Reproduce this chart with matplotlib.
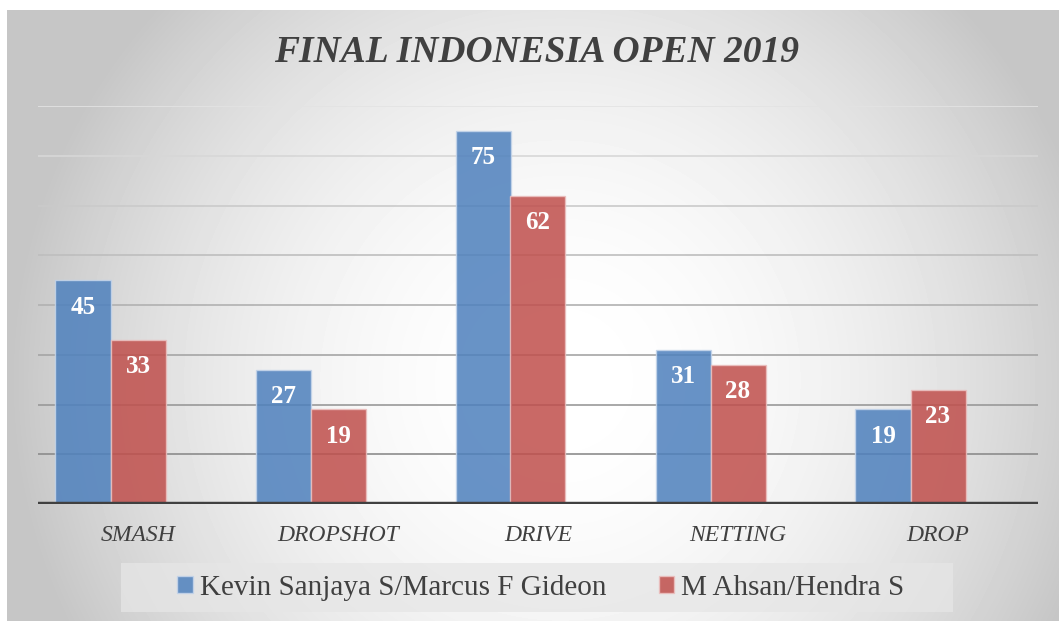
import matplotlib
matplotlib.use("Agg")
import matplotlib.pyplot as plt
from matplotlib.patches import Rectangle
import numpy as np

# data
categories = ["SMASH", "DROPSHOT", "DRIVE", "NETTING", "DROP"]
series_names = ["Kevin Sanjaya S/Marcus F Gideon", "M Ahsan/Hendra S"]
kevin_marcus = [45, 27, 75, 31, 19]
ahsan_hendra = [33, 19, 62, 28, 23]
title = "FINAL INDONESIA OPEN 2019"

plt.rcParams["font.family"] = ["Liberation Serif", "DejaVu Serif"]

W, H = 1059, 621
fig = plt.figure(figsize=(W / 100, H / 100), dpi=100, facecolor="white")

# ---- radial gradient background (chart area) ----
bg = fig.add_axes([7 / W, 0, 1 - 7 / W, 1 - 10 / H])
yy, xx = np.mgrid[10:H, 7:W]
d2 = (xx - 560.0) ** 2 + (yy - 380.0) ** 2
shade = np.clip(255 - 1.9e-4 * d2, 198, 255) / 255.0
bg.imshow(shade, cmap="gray", vmin=0, vmax=1, aspect="auto",
          extent=[0, 1, 0, 1], interpolation="bilinear")
bg.set_axis_off()

# legend box (drawn behind the legend itself)
fig.patches.append(Rectangle((121 / W, 1 - 612 / H), 832 / W, 49 / H,
                             transform=fig.transFigure, facecolor="#e6e6e6",
                             alpha=0.75, edgecolor="none", zorder=0.5))

# ---- main axes ----
ax = fig.add_axes([38 / W, (H - 504) / H, 1000 / W, (504 - 106) / H])
ax.patch.set_alpha(0)
x = np.arange(len(categories)) + 0.5
w = 0.275

# gridlines fading from light (top) to dark (bottom)
levels = np.arange(10, 90, 10)
greys = np.linspace(0.55, 0.89, len(levels))
for lv, g in zip(levels, greys):
    ax.axhline(lv, color=(g, g, g), lw=1.2, zorder=1)

b1 = ax.bar(x - w, kevin_marcus, w, color="#4f81bd", alpha=0.86,
            edgecolor="#c5d5ea", linewidth=1.0, zorder=2, label=series_names[0])
b2 = ax.bar(x, ahsan_hendra, w, color="#c0504d", alpha=0.86,
            edgecolor="#ebc0bf", linewidth=1.0, zorder=2, label=series_names[1])

for bars in (b1, b2):
    for bar in bars:
        h = bar.get_height()
        ax.annotate(f"{h:.0f}", (bar.get_x() + bar.get_width() / 2, h),
                    xytext=(0, -27), textcoords="offset pixels",
                    ha="center", va="center", color="white",
                    fontsize=18, fontweight="bold", zorder=4)

ax.axhline(0, color="#404040", lw=3.2, zorder=5)
ax.set_xlim(0, len(categories))
ax.set_ylim(0, 80)
ax.set_yticks([])
ax.set_xticks(x)
ax.set_xticklabels(categories, fontsize=17, fontstyle="italic", color="#404040")
ax.tick_params(axis="x", length=0, pad=15)
for s in ax.spines.values():
    s.set_visible(False)

fig.text(537 / W, 1 - 53 / H, title, ha="center", va="center",
         fontsize=27, fontweight="bold", fontstyle="italic", color="#404040")

leg = fig.legend(handles=[b1, b2], loc="center left",
                 bbox_to_anchor=(154 / W, 1 - 588 / H),
                 ncol=2, fontsize=21, frameon=False,
                 handlelength=0.52, handleheight=0.52, handletextpad=0.25,
                 columnspacing=1.8, borderpad=0.3)
for t in leg.get_texts():
    t.set_color("#404040")

fig.savefig("out.png", dpi=100, facecolor="white")
